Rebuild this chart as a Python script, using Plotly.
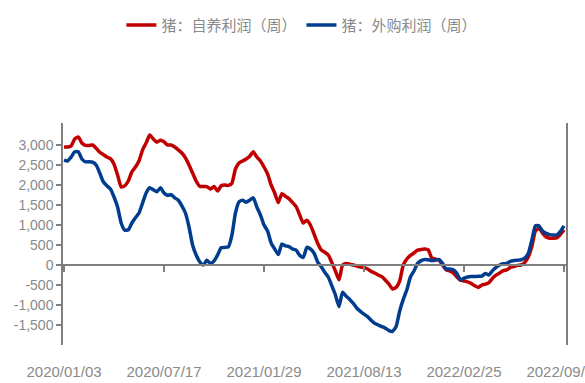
import pandas as pd
import plotly.graph_objects as go

# ---- data (weekly) ----
start_date = "2020-01-03"
n_weeks = 141
red_name = "猪：自养利润（周）"
blue_name = "猪：外购利润（周）"

red_values = [
    2950, 2950, 2980, 3150, 3200, 3050, 2990, 2990, 3000, 2920,
    2820, 2760, 2700, 2660, 2520, 2250, 1950, 1980, 2100, 2330,
    2450, 2600, 2880, 3050, 3250, 3150, 3070, 3120, 3080, 3000,
    3000, 2950, 2880, 2800, 2680, 2500, 2300, 2100, 1970, 1960,
    1960, 1900, 1960, 1850, 1980, 2000, 1990, 2040, 2400, 2550,
    2600, 2650, 2720, 2830, 2700, 2600, 2450, 2280, 2000, 1800,
    1560, 1780, 1720, 1660, 1560, 1460, 1250, 1050, 1120, 1000,
    780, 550, 380, 320, 250, 60, -150, -370, 0, 40,
    20, 0, -25, -50, -60, -100, -160, -200, -250, -290,
    -380, -480, -600, -560, -400, 0, 150, 240, 300, 370,
    390, 400, 380, 170, 150, 120, 0, -120, -150, -200,
    -300, -380, -400, -420, -460, -520, -560, -500, -480, -440,
    -330, -250, -200, -140, -120, -60, -40, -10, 0, 60,
    200, 460, 850, 920, 800, 700, 670, 670, 680, 760,
    880,
]

blue_values = [
    2620, 2600, 2700, 2830, 2830, 2650, 2580, 2580, 2570, 2500,
    2300, 2080, 1980, 1900, 1700, 1450, 1050, 870, 880, 1050,
    1180, 1300, 1550, 1800, 1930, 1880, 1830, 1930, 1800, 1740,
    1760, 1680, 1620, 1480, 1300, 950, 500, 250, 80, 0,
    120, 40, 100, 250, 430, 440, 450, 740, 1300, 1580,
    1620, 1570, 1620, 1680, 1450, 1250, 1000, 850, 550, 400,
    260, 520, 480, 460, 400, 370, 240, 190, 440, 400,
    300, 80, -40, -180, -300, -520, -750, -1040, -680, -780,
    -860, -960, -1080, -1160, -1230, -1290, -1380, -1460, -1500, -1540,
    -1580, -1640, -1660, -1540, -1150, -860, -620, -300, -150, 40,
    110, 140, 130, 110, 120, 140, 40, -100, -100, -120,
    -210, -370, -330, -300, -290, -290, -280, -280, -210, -250,
    -140, -60, 0, 30, 40, 90, 110, 120, 130, 170,
    290, 620, 980, 980, 850, 790, 760, 750, 750, 840,
    980,
]

x_tick_dates = ["2020-01-03", "2020-07-17", "2021-01-29", "2021-08-13", "2022-02-25", "2022-09-09"]
x_tick_text = ["2020/01/03", "2020/07/17", "2021/01/29", "2021/08/13", "2022/02/25", "2022/09/09"]
y_tick_vals = [-1500, -1000, -500, 0, 500, 1000, 1500, 2000, 2500, 3000]
y_tick_text = ["-1,500", "-1,000", "-500", "0", "500", "1,000", "1,500", "2,000", "2,500", "3,000"]

dates = pd.date_range(start_date, periods=n_weeks, freq="7D")

RED = "#C00000"
BLUE = "#003D8F"
GRAY = "#8a8a8a"
NUMFONT = "Liberation Sans, Arial, sans-serif"
CJK = "Noto Sans CJK SC, sans-serif"

y_min, y_max = -2000, 3550
zero_pos = (0 - y_min) / (y_max - y_min)

fig = go.Figure()
fig.add_trace(go.Scatter(x=dates, y=red_values, name=red_name, mode="lines",
                         line=dict(color=RED, width=3.5, shape="spline", smoothing=0.5)))
fig.add_trace(go.Scatter(x=dates, y=blue_values, name=blue_name, mode="lines",
                         line=dict(color=BLUE, width=3.5, shape="spline", smoothing=0.5)))

fig.update_layout(
    width=585, height=383,
    margin=dict(l=63, r=19, t=123, b=38, autoexpand=False),
    paper_bgcolor="white", plot_bgcolor="white",
    font=dict(family=CJK, color=GRAY),
    showlegend=True,
    legend=dict(orientation="h", x=0.475, xanchor="center", y=1.44, yanchor="middle",
                font=dict(family=CJK, size=15, color=GRAY), itemwidth=30,
                bgcolor="rgba(0,0,0,0)"),
    xaxis=dict(
        type="date",
        range=["2020-01-01", "2022-09-13"],
        anchor="free", position=zero_pos,
        automargin=False, tickangle=0,
        showline=True, linecolor="#7f7f7f", linewidth=1.5,
        showgrid=False, zeroline=False,
        ticks="outside", ticklen=6, tickwidth=1.5, tickcolor="#7f7f7f",
        tickvals=x_tick_dates, ticktext=x_tick_text,
        tickfont=dict(family=NUMFONT, size=15, color=GRAY),
        ticklabelstandoff=87, ticklabeloverflow="allow",
    ),
    yaxis=dict(
        range=[y_min, y_max],
        automargin=False,
        showline=True, linecolor="#7f7f7f", linewidth=1.5, mirror=True,
        showgrid=False, zeroline=False,
        ticks="outside", ticklen=5, tickwidth=1.5, tickcolor="#7f7f7f",
        tickvals=y_tick_vals, ticktext=y_tick_text,
        tickfont=dict(family=NUMFONT, size=14, color=GRAY),
    ),
)

fig.write_html("out.html")
